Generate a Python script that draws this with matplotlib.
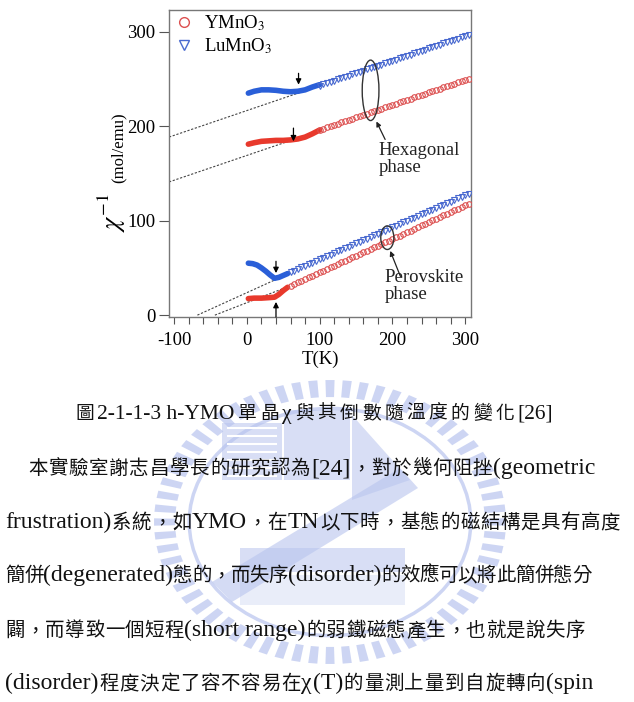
import re
import numpy as np
import matplotlib
matplotlib.use('Agg')
import matplotlib.pyplot as plt
from matplotlib.patches import Ellipse, Polygon, Rectangle
from matplotlib.lines import Line2D

plt.rcParams['font.family'] = ['Liberation Serif', 'Noto Sans CJK TC']
plt.rcParams['mathtext.fontset'] = 'stix'
plt.rcParams['axes.unicode_minus'] = False

# ---- data ----
# hexagonal phase, low-T part (dense, drawn as a thick trace)
T_HEX_LOW = [2, 10, 20, 30, 40, 50, 60, 70, 80, 90, 100]
YMO_HEX_LOW = [181, 182.5, 184, 184.5, 185, 185, 185.5, 186.5, 188.5, 192, 196]
LMO_HEX_LOW = [235, 237, 238.5, 238.5, 238, 237, 236.5, 237, 238.5, 241.5, 244]

# hexagonal phase, high-T part (open markers)
T_HEX_HIGH = [100, 105, 110, 115, 120, 125, 130, 135, 140, 145, 150, 155, 160,
              165, 170, 175, 180, 185, 190, 195, 200, 205, 210, 215, 220, 225,
              230, 235, 240, 245, 250, 255, 260, 265, 270, 275, 280, 285, 290,
              295, 300, 305]
YMO_HEX_HIGH = [196, 197.3, 198.7, 200, 201.3, 202.7, 204, 205.3, 206.6, 208,
                209.3, 210.6, 211.9, 213.3, 214.6, 215.9, 217.3, 218.6, 219.9,
                221.2, 222.6, 223.9, 225.2, 226.6, 227.9, 229.2, 230.6, 231.9,
                233.2, 234.5, 235.9, 237.2, 238.5, 239.9, 241.2, 242.5, 243.8,
                245.2, 246.5, 247.8, 249.2, 250.5]
LMO_HEX_HIGH = [243, 244.3, 245.6, 246.9, 248.2, 249.6, 250.9, 252.2, 253.5,
                254.8, 256.1, 257.4, 258.7, 260.1, 261.4, 262.7, 264, 265.3,
                266.6, 267.9, 269.2, 270.5, 271.8, 273.1, 274.5, 275.8, 277.1,
                278.4, 279.7, 281, 282.3, 283.6, 284.9, 286.2, 287.6, 288.9,
                290.2, 291.5, 292.8, 294.1, 295.4, 296.7]

# perovskite phase, low-T part
T_PER_LOW_LMO = [2, 8, 14, 20, 26, 32, 38, 44, 50, 56]
LMO_PER_LOW = [55, 54.5, 53, 50, 46.5, 42.5, 39, 40, 42, 44]
T_PER_LOW_YMO = [2, 10, 20, 30, 38, 44, 50, 56]
YMO_PER_LOW = [17.5, 18, 18, 18.5, 19, 22, 26, 29.5]

# perovskite phase, high-T part
T_PER_HIGH = [60, 65, 70, 75, 80, 85, 90, 95, 100, 105, 110, 115, 120, 125,
              130, 135, 140, 145, 150, 155, 160, 165, 170, 175, 180, 185, 190,
              195, 200, 205, 210, 215, 220, 225, 230, 235, 240, 245, 250, 255,
              260, 265, 270, 275, 280, 285, 290, 295, 300, 305]
LMO_PER_HIGH = [45.4, 47.1, 48.8, 50.5, 52.2, 53.9, 55.6, 57.3, 59, 60.7, 62.4,
                64.1, 65.8, 67.5, 69.2, 70.9, 72.6, 74.3, 76, 77.7, 79.4, 81.1,
                82.8, 84.5, 86.2, 87.9, 89.6, 91.3, 93, 94.7, 96.4, 98.1, 99.8,
                101.5, 103.2, 104.9, 106.6, 108.3, 110, 111.7, 113.4, 115.1,
                116.8, 118.5, 120.2, 121.9, 123.6, 125.3, 127, 128.7]
YMO_PER_HIGH = [31, 32.8, 34.6, 36.3, 38.1, 39.9, 41.7, 43.4, 45.2, 47, 48.8,
                50.5, 52.3, 54.1, 55.9, 57.6, 59.4, 61.2, 63, 64.7, 66.5, 68.3,
                70.1, 71.8, 73.6, 75.4, 77.2, 78.9, 80.7, 82.5, 84.3, 86, 87.8,
                89.6, 91.4, 93.1, 94.9, 96.7, 98.5, 100.2, 102, 103.8, 105.6,
                107.3, 109.1, 110.9, 112.7, 114.4, 116.2, 118]

# Curie-Weiss extrapolations (dotted)
FIT_T = {'lmo_hex': [-107, 95], 'ymo_hex': [-107, 95],
         'lmo_per': [-68, 52], 'ymo_per': [-44, 56]}
FIT_CHI = {'lmo_hex': [188.5, 241.5], 'ymo_hex': [141, 194],
           'lmo_per': [0, 42], 'ymo_per': [0, 30]}

# T_N arrows: (T, tail chi, tip chi)
TN_ARROWS = [(71, 256, 244), (64, 198, 184), (40, 57, 44.5), (40, -2, 14)]

X_TICKS = [-100, 0, 100, 200, 300]
Y_TICKS = [0, 100, 200, 300]

CAPTION = '圖 2-1-1-3 h-YMO 單晶 χ 與其倒數隨溫度的變化[26]'
BODY = [
    '本實驗室謝志昌學長的研究認為[24]，對於幾何阻挫(geometric',
    'frustration)系統，如 YMO，在 TN 以下時，基態的磁結構是具有高度',
    '簡併(degenerated)態的，而失序(disorder)的效應可以將此簡併態分',
    '闢，而導致一個短程(short range)的弱鐵磁態產生，也就是說失序',
    '(disorder)程度決定了容不容易在χ(T)的量測上量到自旋轉向(spin',
]

RED = '#e8392c'
BLUE = '#2a5fd8'
RED_M = '#dc5050'
BLUE_M = '#4a6ad0'
WM = '#b8c4ee'

fig = plt.figure(figsize=(6.34, 7.02), dpi=100)

# background layer in pixel units: watermark + page text
bg = fig.add_axes([0, 0, 1, 1])
bg.set_xlim(0, 634)
bg.set_ylim(702, 0)
bg.axis('off')

# faint seal watermark
cx, cy, rx, ry = 330, 522, 176, 142
for a in np.linspace(0, 2 * np.pi, 64, endpoint=False):
    da = 0.026
    pts = [(cx + r * rx * np.cos(t), cy + r * ry * np.sin(t))
           for r, t in [(0.88, a - da), (1.0, a - da), (1.0, a + da), (0.88, a + da)]]
    bg.add_patch(Polygon(pts, closed=True, fc=WM, ec='none', alpha=0.7, zorder=0))
bg.add_patch(Ellipse((cx, cy), 2 * 0.8 * rx, 2 * 0.8 * ry, fill=False,
                     ec=WM, lw=2.5, alpha=0.7, zorder=0))
bg.add_patch(Rectangle((222, 423), 60, 57, fc=WM, ec='none', alpha=0.55, zorder=0))
for yy in range(428, 478, 8):
    bg.plot([228, 276], [yy, yy], color='white', lw=1.5, zorder=0)
bg.add_patch(Rectangle((284, 410), 66, 70, fc=WM, ec='none', alpha=0.55, zorder=0))
bg.add_patch(Polygon([(352, 415), (410, 480), (352, 500)], fc=WM, ec='none',
                     alpha=0.55, zorder=0))
bg.add_patch(Polygon([(212, 582), (232, 602), (418, 488), (400, 468)], fc=WM,
                     ec='none', alpha=0.6, zorder=0))
bg.add_patch(Rectangle((240, 548), 165, 24, fc=WM, ec='none', alpha=0.55, zorder=0))
bg.add_patch(Rectangle((240, 575), 165, 30, fc=WM, ec='none', alpha=0.3, zorder=0))

renderer = fig.canvas.get_renderer()


def split_tokens(s):
    # runs of latin text stay together, every CJK char is its own token
    return [t.strip() for t in re.findall(r'[\x20-\x7e]+|.', s) if t.strip()]


def justify(s, x0, x1, ybase, latin_size, cjk_size):
    toks = split_tokens(s)
    items = []
    for t in toks:
        latin = bool(re.match(r'[\x20-\x7e]', t)) or t == 'χ'
        txt = bg.text(0, ybase, t, fontsize=latin_size if latin else cjk_size,
                      ha='left', va='baseline', color='#111111', zorder=2)
        w = txt.get_window_extent(renderer).width
        items.append((txt, w))
    total = sum(w for _, w in items)
    gap = (x1 - x0 - total) / max(len(items) - 1, 1)
    x = x0
    for txt, w in items:
        txt.set_x(x)
        x += w + gap


justify(CAPTION, 75, 553, 419, 15.5, 13.5)
body_x0 = [28, 5, 5, 5, 5]
body_x1 = [595, 620, 592, 585, 593]
body_base = [474, 528, 581, 636, 689]
for s, a, b, yb in zip(BODY, body_x0, body_x1, body_base):
    justify(s, a, b, yb, 17, 14)

# ---- the chart ----
ax = fig.add_axes([0.2666, 0.5484, 0.4763, 0.4373])

for key in FIT_T:
    ax.plot(FIT_T[key], FIT_CHI[key], color='#444444', lw=0.8,
            ls=(0, (2, 1.5)), zorder=1)

ax.plot(T_HEX_LOW, LMO_HEX_LOW, color=BLUE, lw=4, solid_capstyle='round', zorder=3)
ax.plot(T_HEX_LOW, YMO_HEX_LOW, color=RED, lw=4, solid_capstyle='round', zorder=3)
ax.plot(T_PER_LOW_LMO, LMO_PER_LOW, color=BLUE, lw=4, solid_capstyle='round', zorder=3)
ax.plot(T_PER_LOW_YMO, YMO_PER_LOW, color=RED, lw=4, solid_capstyle='round', zorder=3)

mk = dict(ls='none', mfc='none', ms=4, mew=0.8, zorder=3)
ax.plot(T_HEX_HIGH, LMO_HEX_HIGH, marker='v', mec=BLUE_M, **mk)
ax.plot(T_HEX_HIGH, YMO_HEX_HIGH, marker='o', mec=RED_M, **mk)
ax.plot(T_PER_HIGH, LMO_PER_HIGH, marker='v', mec=BLUE_M, **mk)
ax.plot(T_PER_HIGH, YMO_PER_HIGH, marker='o', mec=RED_M, **mk)

for t, tail, tip in TN_ARROWS:
    ax.annotate('', xy=(t, tip), xytext=(t, tail), annotation_clip=False,
                arrowprops=dict(arrowstyle='-|>', color='k', lw=0.9,
                                mutation_scale=8, shrinkA=0, shrinkB=0))

ax.add_patch(Ellipse((170, 238), 23, 64, fill=False, ec='#333333', lw=1.0, zorder=4))
ax.add_patch(Ellipse((193, 82), 18, 25, fill=False, ec='#333333', lw=1.0, zorder=4))
ax.annotate('', xy=(178, 205), xytext=(190, 186),
            arrowprops=dict(arrowstyle='-|>', color='#222222', lw=0.9,
                            mutation_scale=7, shrinkA=0, shrinkB=0))
ax.annotate('', xy=(197, 68), xytext=(211, 41),
            arrowprops=dict(arrowstyle='-|>', color='#222222', lw=0.9,
                            mutation_scale=7, shrinkA=0, shrinkB=0))
ax.text(181, 183, 'Hexagonal\nphase', ha='left', va='top', fontsize=13.5,
        linespacing=1.0, color='#222222')
ax.text(189, 49, 'Perovskite\nphase', ha='left', va='top', fontsize=13.5,
        linespacing=1.0, color='#222222')

handles = [Line2D([], [], ls='none', marker='o', mfc='none', mec=RED_M, ms=7, mew=1),
           Line2D([], [], ls='none', marker='v', mfc='none', mec=BLUE_M, ms=7, mew=1)]
ax.legend(handles, ['YMnO$_3$', 'LuMnO$_3$'], loc='upper left',
          bbox_to_anchor=(-0.045, 1.045), frameon=False, fontsize=13.5,
          handlelength=1.2, handletextpad=0.5, labelspacing=0.2)

ax.set_xlim(-107, 308)
ax.set_ylim(-2, 323)
ax.set_xticks(X_TICKS)
ax.set_xticks(range(-100, 301, 20), minor=True)
ax.set_yticks(Y_TICKS)
ax.tick_params(axis='x', which='both', direction='out', length=5, width=0.8,
               color='#555555', labelsize=13.5, pad=6)
ax.tick_params(axis='y', direction='out', length=7, width=0.8,
               color='#555555', labelsize=13.5, pad=3)
for s in ax.spines.values():
    s.set_color('#777777')
    s.set_linewidth(1.0)
ax.set_xlabel('T(K)', fontsize=13.5, labelpad=1)
ax.text(-0.19, 0.34, r'$\chi^{-1}$', rotation=90, fontsize=19,
        transform=ax.transAxes, ha='center', va='center')
ax.text(-0.168, 0.55, '(mol/emu)', rotation=90, fontsize=12,
        transform=ax.transAxes, ha='center', va='center')

fig.savefig('out.png', dpi=100, facecolor='white')
